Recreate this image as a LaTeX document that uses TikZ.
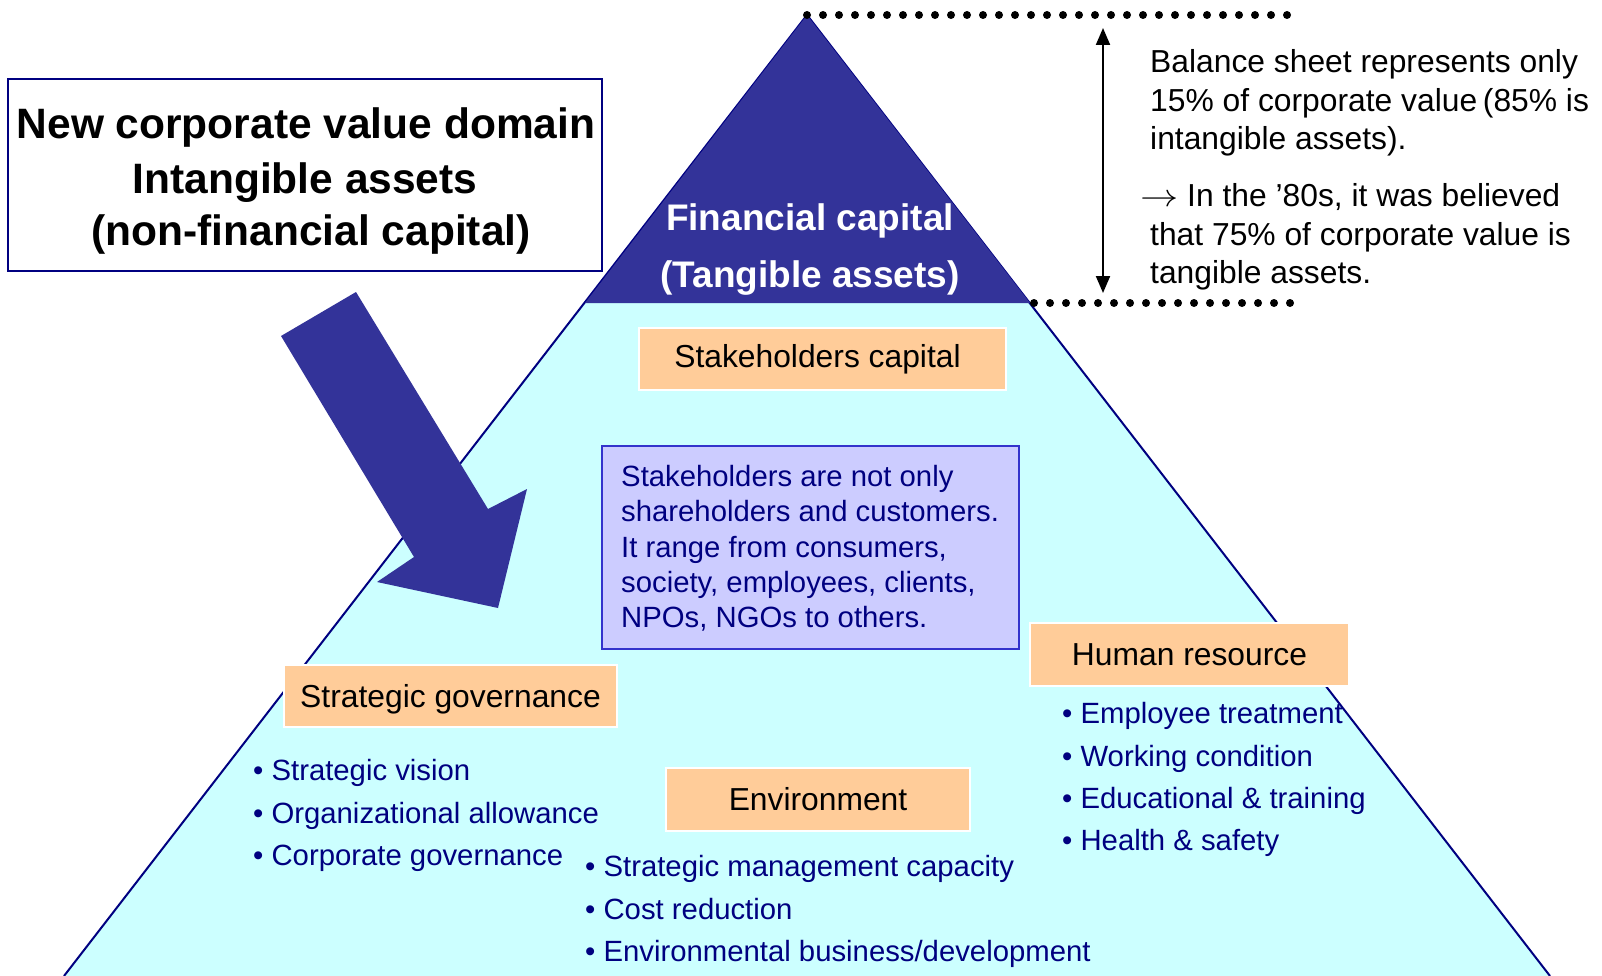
\RequirePackage{fix-cm}
\documentclass[tikz,border=0pt]{standalone}
\usepackage{graphicx}
\usepackage{fontspec}
\setmainfont{Liberation Sans}
\usetikzlibrary{arrows.meta}

\definecolor{capblue}{HTML}{333399}
\definecolor{basecyan}{HTML}{CCFFFF}
\definecolor{tagorange}{HTML}{FFCC99}
\definecolor{notefill}{HTML}{CCCCFF}
\definecolor{noteedge}{HTML}{3333CC}
\definecolor{navytext}{HTML}{000080}

\newcommand\tfTitle{\fontsize{42.5pt}{52pt}\bfseries\selectfont}
\newcommand\tfCap{\fontsize{37pt}{45pt}\bfseries\selectfont}
\newcommand\tfBody{\fontsize{31.8pt}{38pt}\selectfont}
\newcommand\tfList{\fontsize{29.3pt}{35pt}\selectfont}

\begin{document}
\begin{tikzpicture}[x=1pt,y=-1pt,
  txtline/.style={anchor=base west, inner sep=0pt, font=\tfBody},
  listline/.style={anchor=base west, inner sep=0pt, font=\tfList, text=navytext},
  titleline/.style={anchor=base, inner sep=0pt, font=\tfTitle},
  capline/.style={anchor=base, inner sep=0pt, font=\tfCap, text=white},
  tagbox/.style={fill=tagorange, draw=white, line width=1.5pt, font=\tfBody,
    inner sep=0pt, text height=28pt, text depth=5.2pt},
  taglabel/.style={inner sep=0pt, font=\tfBody, text height=28pt, text depth=5.2pt},
  dotrow/.style={line width=8pt, line cap=round, dash pattern=on 0pt off 16pt},
  measure/.style={line width=2pt, {Triangle[length=17pt,width=14pt]}-{Triangle[length=17pt,width=14pt]}}
]
\useasboundingbox (0,0) rectangle (1602,976);

% pyramid corners
\coordinate (apex) at (807,15);
\coordinate (bl) at (64,976);
\coordinate (br) at (1550,976);
\coordinate (dl) at (585,303);
\coordinate (dr) at (1030,303);

% pyramid: intangible base and tangible tip
\fill[basecyan] (apex) -- (bl) -- (br) -- cycle;
\draw[navytext, line width=2pt] (bl) -- (apex) -- (br);
\fill[capblue] (apex) -- (dl) -- (dr) -- cycle;

% dotted guides and measure arrow
\coordinate (topend) at (1292,15);
\coordinate (botstart) at (1034,303);
\coordinate (botend) at (1291,303);
\draw[dotrow] (apex) -- (topend);
\draw[dotrow] (botstart) -- (botend);
\coordinate (mtop) at (1103,28);
\coordinate (mbot) at (1103,293);
\draw[measure] (mtop) -- (mbot);

% right-hand note
\node[txtline] (bs1) at (1150,72.7) {Balance sheet represents only};
\node[txtline] (bs2) at (1150,111.5) {15\% of corporate value\hspace{0.18em}(85\% is};
\node[txtline] (bs3) at (1150,149.3) {intangible assets).};
\node[txtline] (bs4) at (1140,206.5) {\scalebox{1.2}[1]{$\rightarrow$} In the ’80s, it was believed};
\node[txtline] (bs5) at (1150,245.4) {that 75\% of corporate value is};
\node[txtline] (bs6) at (1150,283.2) {tangible assets.};

% title box
\node[draw=navytext, line width=2pt, minimum width=594pt, minimum height=192pt, inner sep=0pt] (title) at (305,175) {};
\node[titleline] (t1) at (306,138.9) {New corporate value domain};
\node[titleline] (t2) at (305,193.1) {Intangible assets};
\node[titleline] (t3) at (311,245.2) {(non-financial capital)};

% label of the tip
\node[capline] (fc1) at (810,230.3) {Financial capital};
\node[capline] (fc2) at (810,287.1) {(Tangible assets)};

% big pointing arrow
\fill[capblue] (281,336) -- (356,292) -- (488,509) -- (527,489) -- (498,608)
  -- (377,582) -- (414,557) -- cycle;

% category tags
\node[tagbox, minimum width=367pt, minimum height=62pt] (sc) at (822.5,359) {};
\node[taglabel] (sclabel) at (817.5,356) {Stakeholders capital};
\node[tagbox, minimum width=333pt, minimum height=62pt] (sg) at (450.5,696) {Strategic governance};
\node[tagbox, minimum width=304pt, minimum height=63pt] (env) at (818,799.5) {Environment};
\node[tagbox, minimum width=319pt, minimum height=63pt] (hr) at (1189.5,654.5) {Human resource};

% stakeholders note
\node[fill=notefill, draw=noteedge, line width=2pt, minimum width=417pt, minimum height=203pt, inner sep=0pt] (note) at (810.5,547.5) {};
\node[listline] (n1) at (621,486.6) {Stakeholders are not only};
\node[listline] (n2) at (621,521.5) {shareholders and customers.};
\node[listline] (n3) at (621,557.1) {It range from consumers,};
\node[listline] (n4) at (621,592.9) {society, employees, clients,};
\node[listline] (n5) at (621,627.6) {NPOs, NGOs to others.};

% bullet lists
\node[listline] (sg1) at (253,780.9) {• Strategic vision};
\node[listline] (sg2) at (253,823.8) {• Organizational allowance};
\node[listline] (sg3) at (253,865.7) {• Corporate governance};

\node[listline] (en1) at (585,876.9) {• Strategic management capacity};
\node[listline] (en2) at (585,919.8) {• Cost reduction};
\node[listline] (en3) at (585,961.7) {• Environmental business/development};

\node[listline] (hr1) at (1062,723.6) {• Employee treatment};
\node[listline] (hr2) at (1062,766.5) {• Working condition};
\node[listline] (hr3) at (1062,808.4) {• Educational \& training};
\node[listline] (hr4) at (1062,850.3) {• Health \& safety};
\end{tikzpicture}
\end{document}
